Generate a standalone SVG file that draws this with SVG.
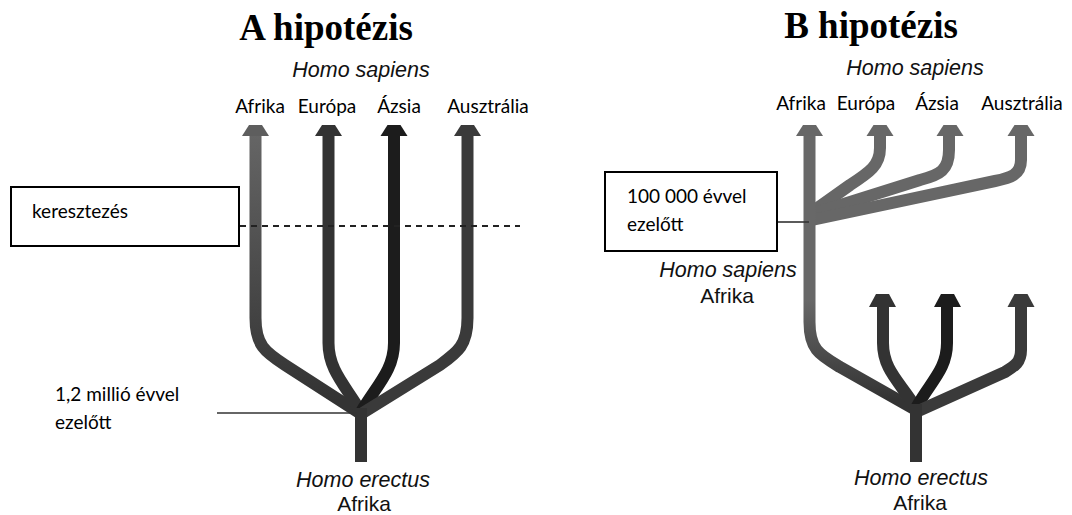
<svg xmlns="http://www.w3.org/2000/svg" width="1072" height="515" viewBox="0 0 1072 515">
<style>
.title{font-family:"Liberation Serif","Times New Roman",serif;font-weight:bold;font-size:37px;fill:#000;text-anchor:middle}
.it{font-family:"Liberation Sans",Arial,sans-serif;font-style:italic;font-size:21.5px;fill:#111;text-anchor:middle}
.rg{font-family:"Liberation Sans",Arial,sans-serif;font-size:21px;fill:#111;text-anchor:middle}
.lbl{font-family:Lato,"Liberation Sans",sans-serif;font-size:19px;fill:#000;text-anchor:middle}
.lbl2{font-family:Lato,"Liberation Sans",sans-serif;font-size:19px;fill:#000}
.br{fill:none;stroke-width:12;stroke-linejoin:round;stroke-linecap:butt}
.box{fill:#fff;stroke:#000;stroke-width:2}
.lead{stroke:#333;stroke-width:1.6;fill:none}
</style>
<defs>
<linearGradient id="gA" gradientUnits="userSpaceOnUse" x1="0" y1="130" x2="0" y2="400">
<stop offset="0" stop-color="#666"/><stop offset="1" stop-color="#333"/>
</linearGradient>
<linearGradient id="gB" gradientUnits="userSpaceOnUse" x1="0" y1="300" x2="0" y2="400">
<stop offset="0" stop-color="#686868"/><stop offset="1" stop-color="#333"/>
</linearGradient>
</defs>
<rect width="1072" height="515" fill="#fff"/>

<g id="titleA"><text class="title" x="326" y="40">A hipotézis</text></g>
<g id="titleB"><text class="title" x="871" y="38">B hipotézis</text></g>

<g id="connectors">
<!-- A tree -->
<path class="br" stroke="url(#gA)" d="M255.5,135 V318 C255.5,345 265,352 285,365 L361,414"/>
<path class="br" stroke="#333" d="M328.5,135 V343 C328.5,370 345,385 361,412"/>
<path class="br" stroke="#1c1c1c" d="M394,135 V343 C394,370 377,385 361,412"/>
<path class="br" stroke="#3a3a3a" d="M467.5,135 V318 C467.5,345 458,352 440,365 L361,414"/>
<path class="br" stroke="#333" d="M361,408 V462"/>
<polygon fill="#5e5e5e" points="249,125 262,125 269,136 242,136"/>
<polygon fill="#333" points="322,125 335,125 342,136 315,136"/>
<polygon fill="#1c1c1c" points="387.5,125 400.5,125 407.5,136 380.5,136"/>
<polygon fill="#3a3a3a" points="461,125 474,125 481,136 454,136"/>
<line x1="240" y1="226" x2="520" y2="226" stroke="#222" stroke-width="2" stroke-dasharray="6,5"/>
<line class="lead" x1="217" y1="413" x2="357" y2="413"/>

<!-- B tree -->
<path class="br" stroke="#676767" d="M880,135 V148 C880,165 870,172 850,185 L812,212"/>
<path class="br" stroke="#676767" d="M949,135 V150 C949,170 940,175 920,180 L812,214"/>
<path class="br" stroke="#676767" d="M1021,135 V160 C1021,175 1010,178 995,181 L812,220"/>
<path class="br" stroke="url(#gB)" d="M809.5,135 V322 C809.5,350 820,355 840,367 L916,410"/>
<path class="br" stroke="#333" d="M883,306 V343 C883,370 900,382 916,408"/>
<path class="br" stroke="#1c1c1c" d="M947,306 V343 C947,370 930,382 916,408"/>
<path class="br" stroke="#3a3a3a" d="M1021,306 V350 C1021,362 1015,366 1005,372 L916,412"/>
<path class="br" stroke="#333" d="M916,404 V462"/>
<polygon fill="#676767" points="803,125 816,125 823,136 796,136"/>
<polygon fill="#676767" points="873.5,125 886.5,125 893.5,136 866.5,136"/>
<polygon fill="#676767" points="943.5,125 956.5,125 963.5,136 936.5,136"/>
<polygon fill="#676767" points="1014.5,125 1027.5,125 1034.5,136 1007.5,136"/>
<polygon fill="#333" points="876,294 889,294 896,307 869,307"/>
<polygon fill="#1c1c1c" points="941,294 954,294 961,307 934,307"/>
<polygon fill="#3a3a3a" points="1014.5,294 1027.5,294 1034.5,307 1007.5,307"/>
<line class="lead" x1="777" y1="222" x2="809" y2="222"/>
</g>

<g id="sapiensA"><text class="it" x="361" y="77">Homo sapiens</text></g>
<g id="regionsA">
<text class="lbl" x="260" y="113">Afrika</text>
<text class="lbl" x="327" y="113">Európa</text>
<text class="lbl" x="399" y="113">Ázsia</text>
<text class="lbl" x="488" y="113">Ausztrália</text>
</g>
<g id="boxA"><rect class="box" x="11" y="187" width="228" height="59"/><text class="lbl2" x="32" y="218">keresztezés</text></g>
<g id="timeA"><text class="lbl2" x="55" y="401">1,2 millió évvel</text><text class="lbl2" x="55" y="429">ezelőtt</text></g>
<g id="erectusA"><text class="it" x="363" y="487">Homo erectus</text><text class="rg" x="364" y="511">Afrika</text></g>

<g id="sapiensB"><text class="it" x="915" y="75">Homo sapiens</text></g>
<g id="regionsB">
<text class="lbl" x="801" y="110">Afrika</text>
<text class="lbl" x="866" y="110">Európa</text>
<text class="lbl" x="937" y="110">Ázsia</text>
<text class="lbl" x="1022" y="110">Ausztrália</text>
</g>
<g id="sapiensAfrikaB"><text class="it" x="728" y="277">Homo sapiens</text><text class="rg" x="727" y="303">Afrika</text></g>
<g id="boxB"><rect class="box" x="605" y="172" width="172" height="79"/><text class="lbl2" x="627" y="203">100 000 évvel</text><text class="lbl2" x="627" y="231">ezelőtt</text></g>
<g id="erectusB"><text class="it" x="921" y="485">Homo erectus</text><text class="rg" x="920" y="510">Afrika</text></g>
</svg>
